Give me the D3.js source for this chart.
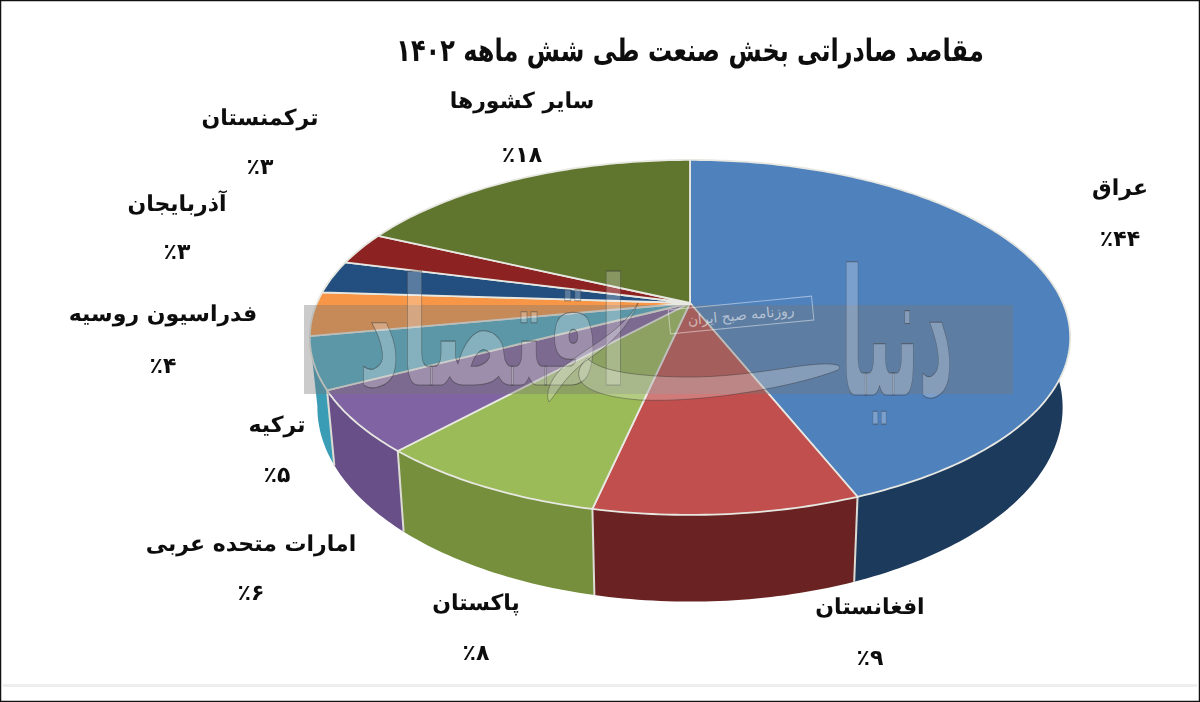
<!DOCTYPE html>
<html lang="fa">
<head>
<meta charset="utf-8">
<script src="https://cdn.jsdelivr.net/npm/d3@7"></script>
<style>
  html, body { margin: 0; padding: 0; background: #fff; }
  svg { display: block; }
  text { font-family: "DejaVu Sans", "Noto Sans", sans-serif; direction: rtl; text-rendering: geometricPrecision; }
</style>
</head>
<body>
<div id="chart"></div>
<script>
//chart data, clockwise from the top of the pie//
var titleText = "مقاصد صادراتی بخش صنعت طی شش ماهه ۱۴۰۲";
var countries = ["عراق", "افغانستان", "پاکستان", "امارات متحده عربی", "ترکیه", "فدراسیون روسیه", "آذربایجان", "ترکمنستان", "سایر کشورها"];
//slice sizes as drawn in the picture, the printed shares are rounded//
var shares = [44, 9.4, 8.3, 5.6, 4.7, 4, 3, 3, 18];
var shareLabels = ["٪۴۴", "٪۹", "٪۸", "٪۶", "٪۵", "٪۴", "٪۳", "٪۳", "٪۱۸"];
var topColors = ["#4f81bd", "#c0504d", "#9bbb59", "#8064a2", "#4bacc6", "#f79646", "#234f80", "#8c2320", "#60752f"];
var sideColors = ["#1f3a5c", "#6b2423", "#758f3c", "#674f88", "#3b9cb5", null, null, null, null];

//label anchors: [x, name y, percent y]//
var labelSpots = [[1120, 187, 237], [870, 606, 656], [476, 602, 651], [251, 543, 591], [277, 424, 473], [163, 313, 364], [177, 203, 250], [260, 117, 165], [522, 100, 153]];

var w = 1200;
var h = 702;

var svg = d3.select("#chart")
  .append("svg")
  .attr("width", w)
  .attr("height", h);

//the source is a soft scan//
svg.append("defs")
  .append("filter")
  .attr("id", "soft")
  .append("feGaussianBlur")
  .attr("stdDeviation", 0.5);

svg.append("rect")
  .attr("x", 0.5).attr("y", 0.5)
  .attr("width", w - 1).attr("height", h - 1)
  .attr("fill", "#fff")
  .attr("stroke", "#111")
  .attr("stroke-width", 1.5);

svg.append("rect")
  .attr("x", 3).attr("y", 684)
  .attr("width", w - 6).attr("height", 3)
  .attr("fill", "#eee");

//perspective of the pie: flat circle to picture//
var cx = 690, cy = 303, a = 373, b = 170.8, k = -0.194;

function topPoint(angle) {
  var u = Math.sin(angle), v = -Math.cos(angle), d = 1 + k * v;
  return [cx + a * u / d, cy + b * v / d];
}

//rim of the bottom face sits a bit narrower and lower//
var bottomY = d3.scaleLinear().domain([390, 497]).range([465, 582]);
function bottomPoint(angle) {
  var p = topPoint(angle);
  return [cx + 0.98 * (p[0] - cx), bottomY(p[1])];
}

function arcAngles(d) {
  var n = Math.max(4, Math.ceil((d.endAngle - d.startAngle) * 60));
  return d3.range(n + 1).map(function(i) {
    return d.startAngle + (d.endAngle - d.startAngle) * i / n;
  });
}

var pie = d3.pie().sort(null).value(function(d) { return d; });
var slices = pie(shares);
var line = d3.line();

var pieGroup = svg.append("g").attr("filter", "url(#soft)");

//side walls first, the top face covers the hidden parts//
var walls = slices.filter(function(d) { return sideColors[d.index]; });

pieGroup.selectAll("path.side")
  .data(walls)
  .enter()
  .append("path")
  .attr("class", "side")
  .attr("fill", function(d) { return sideColors[d.index]; })
  .attr("d", function(d) {
    var angles = arcAngles(d);
    return line(angles.map(topPoint).concat(angles.slice().reverse().map(bottomPoint))) + "Z";
  });

//light seams between the walls//
pieGroup.selectAll("path.seam")
  .data(walls.slice(0, walls.length - 1))
  .enter()
  .append("path")
  .attr("class", "seam")
  .attr("fill", "none")
  .attr("stroke", "#dcdcd4")
  .attr("stroke-width", 2)
  .attr("d", function(d) {
    return line([topPoint(d.endAngle), bottomPoint(d.endAngle)]);
  });

pieGroup.selectAll("path.slice")
  .data(slices)
  .enter()
  .append("path")
  .attr("class", "slice")
  .attr("fill", function(d) { return topColors[d.index]; })
  .attr("stroke", "#e8e8e2")
  .attr("stroke-width", 1.8)
  .attr("stroke-linejoin", "round")
  .attr("d", function(d) {
    return line([[cx, cy]].concat(arcAngles(d).map(topPoint))) + "Z";
  });

//watermark band//
svg.append("rect")
  .attr("x", 304).attr("y", 305)
  .attr("width", 709).attr("height", 89)
  .attr("fill", "#777")
  .attr("fill-opacity", 0.38);

var wm = svg.append("g")
  .attr("fill", "#fff")
  .attr("fill-opacity", 0.25)
  .attr("stroke", "#333")
  .attr("stroke-opacity", 0.5)
  .attr("stroke-width", 0.8);

wm.append("text")
  .attr("transform", "translate(897,395) scale(0.52,1.35)")
  .attr("text-anchor", "middle")
  .attr("font-size", 130)
  .attr("font-weight", "bold")
  .text("دنیا");

wm.append("text")
  .attr("transform", "translate(493,385) scale(0.82,1.5)")
  .attr("text-anchor", "middle")
  .attr("font-size", 100)
  .attr("font-weight", "bold")
  .text("اقتصاد");

wm.append("path")
  .attr("d", "M587 358C570 375 575 395 640 400C710 403 800 385 838 370C845 364 830 362 800 366C760 372 720 378 680 377C640 376 600 372 587 358Z");

wm.append("path")
  .attr("d", "M638 303C620 335 580 350 560 370C550 380 545 395 549 402C556 395 565 375 590 358C610 345 630 325 638 303Z");

//small tag of the paper//
var tag = svg.append("g").attr("transform", "translate(741,315) rotate(-5.5)");
tag.append("rect")
  .attr("x", -72).attr("y", -12)
  .attr("width", 144).attr("height", 24)
  .attr("fill", "none")
  .attr("stroke", "#fff")
  .attr("stroke-opacity", 0.45);
tag.append("text")
  .attr("x", 0).attr("y", 5)
  .attr("text-anchor", "middle")
  .attr("font-size", 14)
  .attr("fill", "#fff")
  .attr("fill-opacity", 0.55)
  .text("روزنامه صبح ایران");

//title and labels//
var labels = svg.append("g").attr("filter", "url(#soft)");

labels.append("text")
  .attr("transform", "translate(690,61) scale(0.89,1.15)")
  .attr("text-anchor", "middle")
  .attr("font-size", 27)
  .attr("font-weight", "bold")
  .attr("fill", "#111")
  .text(titleText);

labels.selectAll("text.name")
  .data(countries)
  .enter()
  .append("text")
  .attr("class", "name")
  .attr("x", function(d, i) { return labelSpots[i][0]; })
  .attr("y", function(d, i) { return labelSpots[i][1] + 8; })
  .attr("text-anchor", "middle")
  .attr("font-size", 22)
  .attr("font-weight", "bold")
  .attr("fill", "#111")
  .text(function(d) { return d; });

labels.selectAll("text.share")
  .data(shareLabels)
  .enter()
  .append("text")
  .attr("class", "share")
  .attr("x", function(d, i) { return labelSpots[i][0]; })
  .attr("y", function(d, i) { return labelSpots[i][2] + 9; })
  .attr("text-anchor", "middle")
  .attr("font-size", 22)
  .attr("font-weight", "bold")
  .attr("fill", "#111")
  .text(function(d) { return d; });
</script>
</body>
</html>
